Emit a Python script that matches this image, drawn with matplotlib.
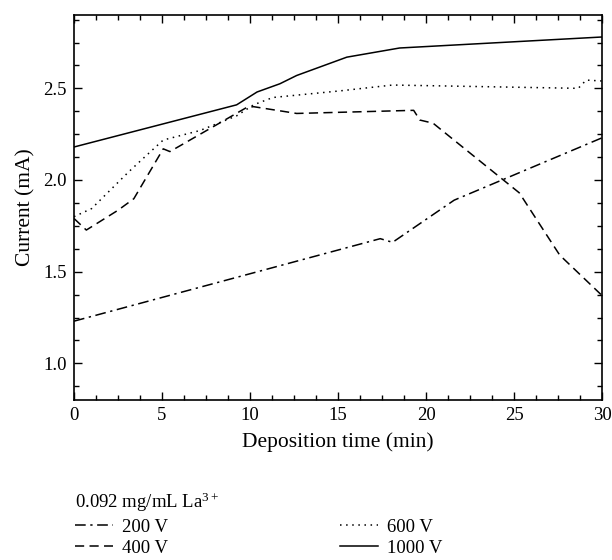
import matplotlib
matplotlib.use("Agg")
import matplotlib.pyplot as plt
from matplotlib.ticker import MultipleLocator

plt.rcParams['font.family'] = ['Liberation Serif', 'DejaVu Serif']
plt.rcParams['mathtext.fontset'] = 'custom'
plt.rcParams['mathtext.rm'] = 'Liberation Serif'
plt.rcParams['mathtext.it'] = 'Liberation Serif:italic'

# Data
t_200 = [0, 17.4, 18.1, 21.6, 30]
v_200 = [1.23, 1.68, 1.66, 1.89, 2.23]

t_400 = [0, 0.7, 2.5, 3.4, 5.07, 5.45, 9.8, 10.2, 12.65, 19.3, 19.65, 20.4, 25.3, 27.6, 30]
v_400 = [1.79, 1.727, 1.835, 1.898, 2.17, 2.155, 2.395, 2.40, 2.363, 2.38, 2.327, 2.31, 1.93, 1.59, 1.37]

t_600 = [0, 1.0, 2.05, 3.09, 4.0, 5.07, 7.16, 9.24, 10.2, 11.3, 15.1, 18.1, 28.65, 29.1, 30]
v_600 = [1.80, 1.844, 1.944, 2.043, 2.124, 2.218, 2.27, 2.35, 2.41, 2.45, 2.486, 2.518, 2.50, 2.545, 2.54]

t_1000 = [0, 9.24, 10.4, 11.7, 12.65, 15.5, 18.5, 30]
v_1000 = [2.18, 2.41, 2.48, 2.525, 2.57, 2.67, 2.72, 2.78]

labels = ['200 V', '400 V', '600 V', '1000 V']
legend_title = '0.092 mg/mL La$^{3+}$'

fig = plt.figure(figsize=(6.12, 5.6), dpi=100)
ax = fig.add_axes([74/612, 1-400/560, 528/612, 385/560])

lw = 1.1
l200, = ax.plot(t_200, v_200, color='black', lw=lw, dashes=[7, 3, 1.5, 3])
l400, = ax.plot(t_400, v_400, color='black', lw=lw, dashes=[6, 3.5])
l600, = ax.plot(t_600, v_600, color='black', lw=lw, dashes=[1, 3])
l1000, = ax.plot(t_1000, v_1000, color='black', lw=lw, linestyle='-')

ax.set_xlim(0, 30)
ax.set_ylim(0.8, 2.9)
ax.xaxis.set_major_locator(MultipleLocator(5))
ax.xaxis.set_minor_locator(MultipleLocator(1.25))
ax.yaxis.set_major_locator(MultipleLocator(0.5))
ax.yaxis.set_minor_locator(MultipleLocator(0.125))
ax.tick_params(which='both', direction='in', top=True, right=True, labelsize=13.5, width=1)
ax.tick_params(which='major', length=6, pad=5)
ax.tick_params(which='minor', length=3.5)
for s in ax.spines.values():
    s.set_linewidth(1.2)

ax.set_xlabel('Deposition time (min)', fontsize=15.5, labelpad=6)
ax.set_ylabel('Current (mA)', fontsize=15.5, labelpad=6)

leg = fig.legend([l200, l400, l600, l1000], labels, ncol=2,
                 loc='upper left', bbox_to_anchor=(75/612, 1-491/560),
                 frameon=False, fontsize=13.5, title=legend_title,
                 title_fontsize=13.5, alignment='left', handlelength=2.0,
                 handletextpad=0.5, columnspacing=9.2, borderpad=0,
                 borderaxespad=0, labelspacing=0.22)

fig.savefig('out.png', dpi=100)
